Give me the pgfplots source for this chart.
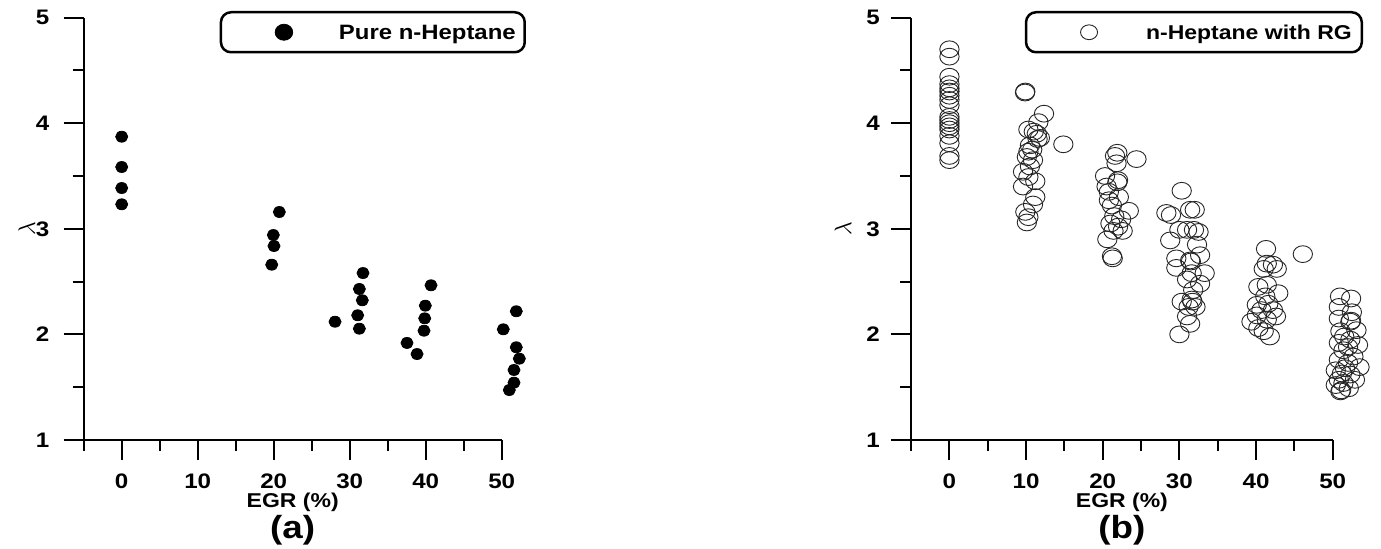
\documentclass[border=0pt]{standalone}
\usepackage{fontspec}
\setmainfont{Liberation Sans}[FakeStretch=1.15]
\usepackage{pgfplots}
\pgfplotsset{compat=1.18}
\pgfplotsset{mystyle/.style={
  scale only axis, height=211.2pt,
  xmin=-5, xmax=50, ymin=1, ymax=5,
  axis x line=bottom, axis y line=left,
  axis line style={-, line width=1.2pt},
  tick align=outside,
  xtick={0,10,...,50}, minor xtick={-5,5,...,45},
  ytick={1,2,3,4,5}, minor ytick={1.5,2.5,3.5,4.5},
  major tick length=10pt, minor tick length=5.5pt,
  tick style={line width=1pt, black},
  /pgf/number format/assume math mode=true,
  ticklabel style={font=\bfseries\fontsize{10.5}{12}\selectfont},
  xticklabel style={anchor=base, yshift=-14.5pt},
  xlabel={EGR (\%)},
  xlabel style={at={([yshift=-34pt]axis description cs:0.5,0)}, anchor=base, font=\bfseries\fontsize{10}{12}\selectfont},
  ylabel={$\lambda$},
  ylabel style={anchor=center, font=\fontsize{12}{14}\selectfont},
  title style={at={([yshift=-55.5pt]axis description cs:0.5,0)}, anchor=base, font=\bfseries\fontsize{16}{18}\selectfont},
  clip=false,
  legend style={draw=black, line width=1.25pt, rounded corners=5pt, inner sep=0pt, column sep=0pt,
    nodes={inner sep=0pt, text height=7.3pt, text depth=0pt}},
}}
\begin{document}
\begin{tikzpicture}
\begin{axis}[mystyle, width=209pt,
  at={(41.85pt,54.5pt)}, anchor=south west,
  yticklabel style={anchor=east, inner sep=0pt, xshift=-7pt},
  ylabel style={at={([xshift=-28.5pt]axis description cs:0,0.5)}},
  title={(a)},
  legend style={at={(axis description cs:1.0581,1.0156)}, anchor=north east,
    font=\bfseries\fontsize{10.4}{12}\selectfont},
  legend image code/.code={\path[draw=none,fill=none] (-31.5pt,-10pt) rectangle (27.5pt,10pt);
     \draw[#1, line width=0.4pt, sharp corners, mark size=4pt] plot coordinates {(0pt,0pt)};},
]
\addplot[only marks, mark=*, mark size=2.75pt, mark options={xscale=1.1, fill=black, draw=black}] table {
x y
0 3.872
0 3.585
0 3.386
0 3.232
20.74 3.159
19.95 2.941
20.04 2.837
19.74 2.660
28.07 2.120
31.75 2.581
31.27 2.430
31.66 2.323
31.05 2.181
31.27 2.054
37.54 1.919
38.86 1.814
40.70 2.465
39.95 2.272
39.87 2.152
39.78 2.035
50.21 2.048
51.92 2.219
51.92 1.878
52.32 1.770
51.62 1.663
51.62 1.543
51.00 1.473
};
\addlegendentry{Pure n-Heptane\kern4.5pt}
\end{axis}
\begin{axis}[mystyle, width=210.8pt,
  at={(455.55pt,54.5pt)}, anchor=south west,
  yticklabel style={anchor=east, inner sep=0pt, xshift=-5.5pt},
  ylabel style={at={([xshift=-34pt]axis description cs:0,0.5)}},
  title={(b)},
  legend style={at={(axis description cs:1.0719,1.0156)}, anchor=north east,
    font=\bfseries\fontsize{10}{12}\selectfont},
  legend image code/.code={\path[draw=none,fill=none] (-31.5pt,-10pt) rectangle (28.5pt,10pt);
     \draw[#1, line width=0.45pt, sharp corners, mark size=3.7pt] plot coordinates {(0pt,0pt)};},
]
\addplot[only marks, mark=o, mark size=4.2pt, mark options={xscale=1.15, draw=black!85, line width=0.45pt}] table {
x y
0 4.70
0 4.63
0 4.44
0 4.37
0 4.33
0 4.30
0 4.26
0 4.22
0 4.17
0 4.06
0 4.03
0 4.00
0 3.97
0 3.94
0 3.88
0 3.81
0 3.69
0 3.65
9.86 4.29
9.90 4.30
12.34 4.09
11.6 4.01
14.86 3.80
10.3 3.94
11.0 3.92
11.4 3.90
11.8 3.86
11.5 3.85
10.5 3.79
10.8 3.75
10.3 3.73
10.1 3.68
10.9 3.65
10.5 3.59
9.6 3.54
10.3 3.49
11.2 3.45
9.6 3.40
11.2 3.30
10.9 3.23
9.9 3.16
10.3 3.11
10.1 3.06
21.9 3.72
21.6 3.69
24.4 3.66
21.8 3.62
20.3 3.50
22.0 3.46
21.9 3.44
20.5 3.40
20.8 3.35
22.1 3.30
20.8 3.27
21.2 3.22
23.4 3.17
21.5 3.12
22.4 3.09
21.0 3.05
22.0 3.02
21.4 2.98
22.6 2.98
20.6 2.90
21.2 2.74
21.3 2.72
30.3 3.36
28.3 3.15
28.9 3.13
32.0 3.18
31.4 3.18
30.0 2.99
31.0 2.99
31.9 2.99
32.5 2.97
28.8 2.89
32.3 2.85
29.6 2.72
32.7 2.75
31.4 2.70
31.5 2.69
29.6 2.63
33.3 2.58
31.6 2.58
31.0 2.52
32.7 2.48
31.8 2.42
30.3 2.31
31.6 2.33
31.7 2.31
31.2 2.26
32.1 2.26
31.0 2.17
31.4 2.10
30.0 2.00
41.3 2.81
46.1 2.76
41.4 2.67
42.2 2.66
42.7 2.62
41.0 2.62
40.3 2.45
41.4 2.47
42.9 2.39
41.2 2.36
40.1 2.28
41.6 2.29
40.7 2.23
42.2 2.23
40.1 2.18
42.6 2.17
39.4 2.12
41.4 2.14
40.3 2.06
41.8 1.98
41.0 2.03
50.95 2.36
52.4 2.34
50.8 2.26
52.5 2.21
50.8 2.15
52.3 2.12
52.4 2.13
53.1 2.04
51.0 2.03
50.8 1.92
52.3 1.95
53.3 1.90
51.4 1.85
52.7 1.79
50.8 1.76
52.0 1.73
53.5 1.69
50.4 1.66
51.2 1.63
52.3 1.62
52.9 1.57
50.8 1.57
51.4 1.54
50.4 1.52
51.1 1.47
52.1 1.49
51.0 1.46
51.6 1.68
52.0 1.88
51.5 1.98
};
\addlegendentry{n-Heptane with RG\kern5pt}
\end{axis}
\pgfresetboundingbox
\path (0,0) rectangle (690.5pt,274.5pt);
\end{tikzpicture}
\end{document}
